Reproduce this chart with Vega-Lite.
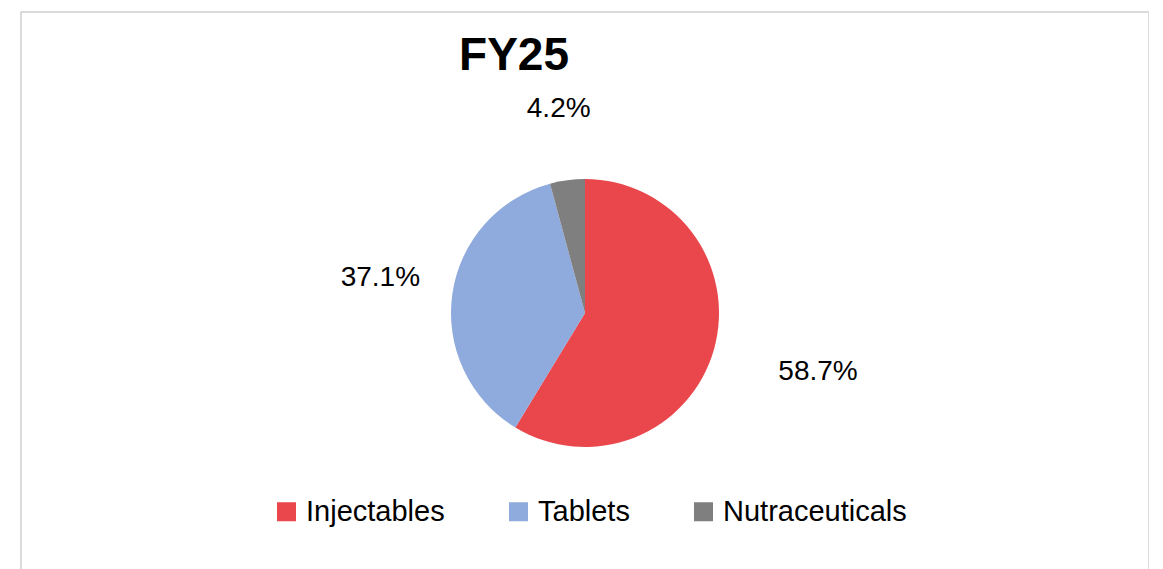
{
  "$schema": "https://vega.github.io/schema/vega-lite/v6.json",
  "autosize": {"type": "none"},
  "width": 1128,
  "height": 602,
  "padding": {"left": 21, "top": 12, "right": 0, "bottom": 0},
  "background": "white",
  "view": {"stroke": "#D0D0D0", "strokeWidth": 1.5, "fill": "white"},
  "config": {
    "view": {"stroke": "#D0D0D0", "strokeWidth": 1.5},
    "font": "Liberation Sans"
  },
  "title": {
    "text": "FY25",
    "fontSize": 46,
    "fontWeight": "bold",
    "font": "Liberation Sans",
    "color": "black",
    "anchor": "middle",
    "dx": -71,
    "dy": 72
  },
  "data": {
    "values": [
      {"segment": "Injectables", "share": 0.587},
      {"segment": "Tablets", "share": 0.371},
      {"segment": "Nutraceuticals", "share": 0.042}
    ]
  },
  "encoding": {
    "theta": {"field": "share", "type": "quantitative", "stack": true},
    "order": {"field": "share", "type": "quantitative", "sort": "descending"}
  },
  "layer": [
    {
      "mark": {"type": "arc", "outerRadius": 134},
      "encoding": {
        "color": {
          "field": "segment",
          "type": "nominal",
          "sort": ["Injectables", "Tablets", "Nutraceuticals"],
          "scale": {
            "domain": ["Injectables", "Tablets", "Nutraceuticals"],
            "range": ["#E9474C", "#8FAADC", "#7F7F7F"]
          },
          "legend": {
            "orient": "none",
            "legendX": 251,
            "legendY": 485,
            "direction": "horizontal",
            "title": null,
            "symbolType": "square",
            "symbolSize": 361,
            "symbolStrokeWidth": 0,
            "labelFontSize": 29,
            "labelFont": "Liberation Sans",
            "labelColor": "black",
            "labelLimit": 400,
            "columnPadding": 59,
            "labelOffset": 5
          }
        }
      }
    },
    {
      "mark": {"type": "text", "fontSize": 28, "font": "Liberation Sans", "color": "black", "dy": -6},
      "encoding": {
        "radius": {
          "field": "share",
          "type": "quantitative",
          "scale": {"type": "pow", "exponent": 4, "zero": false, "domain": [0.042, 0.587], "range": [200, 242]},
          "legend": null
        },
        "text": {"field": "share", "type": "quantitative", "format": ".1%"}
      }
    }
  ]
}
